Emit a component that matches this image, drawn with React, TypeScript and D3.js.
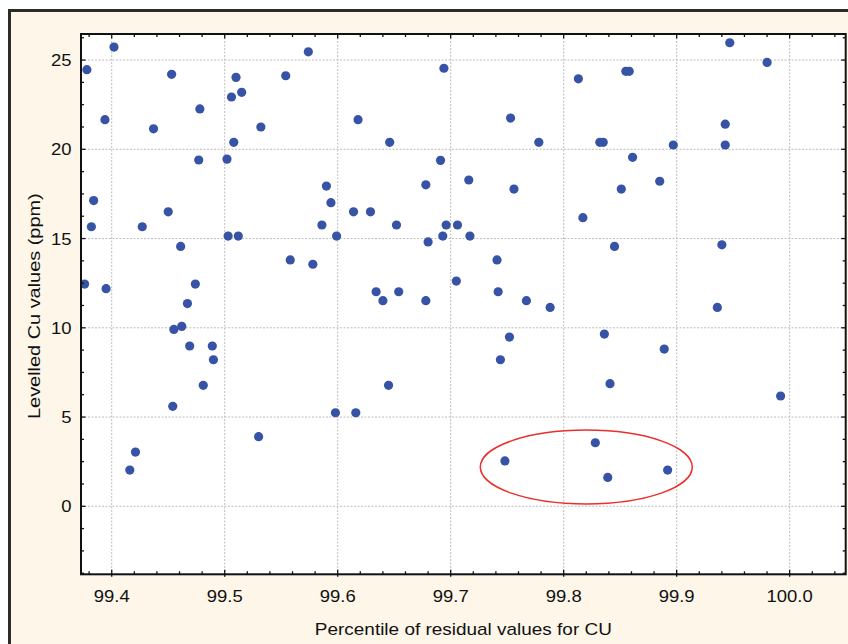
import React from "react";
import * as d3 from "d3";

const xValues: number[] = [
  99.402, 99.378, 99.453, 99.394, 99.437, 99.478, 99.384, 99.382, 99.427, 99.376,
  99.395, 99.450, 99.461, 99.477, 99.474, 99.467, 99.462, 99.455, 99.469, 99.489,
  99.490, 99.481, 99.454, 99.421, 99.416, 99.510, 99.506, 99.515, 99.508, 99.502,
  99.532, 99.503, 99.512, 99.530, 99.554, 99.574, 99.558, 99.578, 99.590, 99.594,
  99.586, 99.599, 99.598, 99.616, 99.618, 99.614, 99.629, 99.646, 99.652, 99.634,
  99.640, 99.654, 99.645, 99.694, 99.691, 99.678, 99.680, 99.696, 99.693, 99.706,
  99.716, 99.717, 99.705, 99.678, 99.753, 99.756, 99.741, 99.742, 99.767, 99.752,
  99.744, 99.788, 99.778, 99.748, 99.813, 99.817, 99.832, 99.835, 99.855, 99.858,
  99.861, 99.851, 99.845, 99.836, 99.841, 99.828, 99.839, 99.885, 99.897, 99.889,
  99.892, 99.947, 99.980, 99.943, 99.943, 99.940, 99.936, 99.992,
];

const yValues: number[] = [
  25.73, 24.46, 24.20, 21.66, 21.15, 22.26, 17.13, 15.66, 15.66, 12.45,
  12.19, 16.50, 14.56, 19.40, 12.45, 11.36, 10.08, 9.91, 8.98, 8.98,
  8.21, 6.78, 5.60, 3.04, 2.03, 24.03, 22.93, 23.19, 20.39, 19.45,
  21.25, 15.14, 15.14, 3.90, 24.12, 25.46, 13.80, 13.56, 17.94, 17.01,
  15.76, 15.14, 5.24, 5.24, 21.66, 16.50, 16.50, 20.39, 15.76, 12.02,
  11.52, 12.02, 6.78, 24.54, 19.38, 18.01, 14.81, 15.76, 15.14, 15.76,
  18.28, 15.14, 12.62, 11.52, 21.75, 17.77, 13.80, 12.02, 11.52, 9.48,
  8.21, 11.14, 20.39, 2.54, 23.95, 16.17, 20.39, 20.39, 24.37, 24.37,
  19.55, 17.77, 14.56, 9.65, 6.87, 3.56, 1.62, 18.21, 20.24, 8.81,
  2.03, 25.97, 24.87, 21.41, 20.24, 14.65, 11.14, 6.18,
];

const xTickLabels: number[] = [99.4, 99.5, 99.6, 99.7, 99.8, 99.9, 100.0];
const yTickLabels: number[] = [0, 5, 10, 15, 20, 25];
const xDomain: number[] = [99.3728, 100.0496];
const yDomain: number[] = [-3.81, 26.46];
const highlight = { cx: 99.82, cy: 2.2, rx: 0.0938, ry: 2.07 };

const xAxisTitle = "Percentile of residual values for CU";
const yAxisTitle = "Levelled Cu values (ppm)";

export default function App() {
  const W = 848;
  const H = 644;
  const left = 81;
  const right = 845.7;
  const top = 34;
  const bottom = 574.3;

  const x = d3.scaleLinear().domain(xDomain).range([left, right]);
  const y = d3.scaleLinear().domain(yDomain).range([bottom, top]);

  const xMinor = d3.range(Math.ceil(xDomain[0] / 0.02), Math.floor(xDomain[1] / 0.02) + 1).map((k) => +(k * 0.02).toFixed(3));
  const yMinor = d3.range(Math.ceil(yDomain[0] / 1.25), Math.floor(yDomain[1] / 1.25) + 1).map((k) => k * 1.25);
  const isMajorX = (v: number) => Math.abs(v * 10 - Math.round(v * 10)) < 1e-6;
  const isMajorY = (v: number) => Math.abs(v / 5 - Math.round(v / 5)) < 1e-6;

  const font = "'Liberation Sans', Arial, Helvetica, sans-serif";
  const tickStretch = 1.1;
  const titleStretch = 1.17;
  const yTitleStretch = 1.23;

  return (
    <svg
      width={W}
      height={H}
      style={{ position: "absolute", left: 0, top: 0, display: "block" }}
      fontFamily={font}
    >
      <rect x={0} y={0} width={W} height={H} fill="#ffffff" />
      <rect x={9.5} y={10.5} width={W + 20} height={H + 20} fill="#fdf6e9" stroke="#2b2b2b" strokeWidth={3} />
      <rect x={left} y={top} width={right - left} height={bottom - top} fill="#ffffff" />

      {/* grid */}
      <g stroke="#bdbdbd" strokeWidth={1} strokeDasharray="2,1.5">
        {xTickLabels.map((v) => (
          <line key={"gx" + v} x1={x(v)} x2={x(v)} y1={top} y2={bottom} />
        ))}
        {yTickLabels.map((v) => (
          <line key={"gy" + v} x1={left} x2={right} y1={y(v)} y2={y(v)} />
        ))}
      </g>

      {/* points */}
      <g fill="#3753a5">
        {xValues.map((v, i) => (
          <circle key={i} cx={x(v)} cy={y(yValues[i])} r={4.6} />
        ))}
      </g>

      {/* highlight ellipse */}
      <ellipse
        cx={x(highlight.cx)}
        cy={y(highlight.cy)}
        rx={x(highlight.cx + highlight.rx) - x(highlight.cx)}
        ry={y(highlight.cy) - y(highlight.cy + highlight.ry)}
        fill="none"
        stroke="#ec2f2a"
        strokeWidth={1.5}
      />

      {/* frame */}
      <rect x={left} y={top} width={right - left} height={bottom - top} fill="none" stroke="#111" strokeWidth={2} />

      {/* ticks */}
      <g stroke="#111" strokeWidth={1.3}>
        {xMinor.map((v) => {
          const len = isMajorX(v) ? 4.5 : 3;
          return (
            <g key={"tx" + v}>
              <line x1={x(v)} x2={x(v)} y1={bottom} y2={bottom - len} />
              {isMajorX(v) && <line x1={x(v)} x2={x(v)} y1={bottom} y2={bottom + 2.5} />}
              <line x1={x(v)} x2={x(v)} y1={top} y2={top + len} />
            </g>
          );
        })}
        {yMinor.map((v) => {
          const len = isMajorY(v) ? 4.5 : 3;
          return (
            <g key={"ty" + v}>
              <line x1={left} x2={left + len} y1={y(v)} y2={y(v)} />
              <line x1={right} x2={right - len} y1={y(v)} y2={y(v)} />
            </g>
          );
        })}
      </g>

      {/* tick labels */}
      <g fontSize={16.8} fill="#111">
        {xTickLabels.map((v) => (
          <text
            key={"lx" + v}
            transform={`translate(${x(v)},602.3) scale(${tickStretch},1)`}
            textAnchor="middle"
          >
            {v.toFixed(1)}
          </text>
        ))}
        {yTickLabels.map((v) => (
          <text
            key={"ly" + v}
            transform={`translate(71.5,${y(v)}) scale(${tickStretch},1)`}
            dy="0.36em"
            textAnchor="end"
          >
            {String(v)}
          </text>
        ))}
      </g>

      {/* axis titles */}
      <text
        transform={`translate(${(left + right) / 2},635) scale(${titleStretch},1)`}
        textAnchor="middle"
        fontSize={16.2}
        fill="#111"
      >
        {xAxisTitle}
      </text>
      <text
        transform={`translate(39.5,${(top + bottom) / 2 + 2}) rotate(-90) scale(${yTitleStretch},1)`}
        textAnchor="middle"
        fontSize={16.2}
        fill="#111"
      >
        {yAxisTitle}
      </text>
    </svg>
  );
}
